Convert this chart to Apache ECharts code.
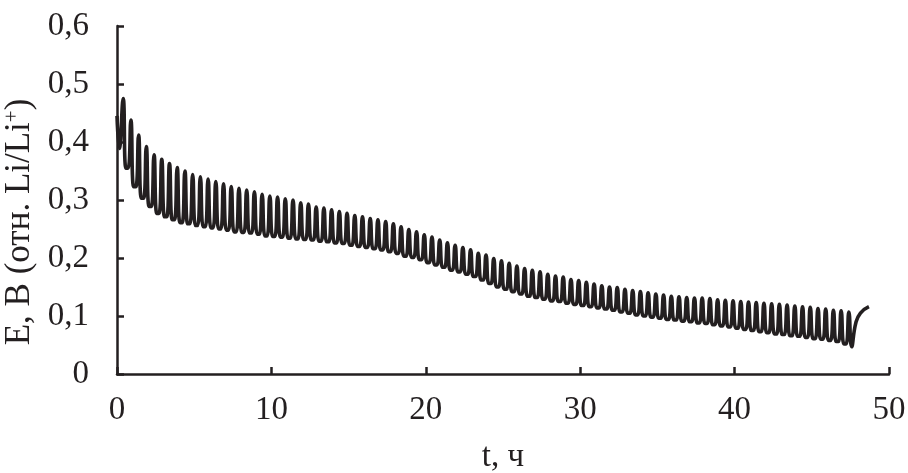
<!DOCTYPE html>
<html>
<head>
<meta charset="utf-8">
<script src="https://cdn.jsdelivr.net/npm/echarts@6/dist/echarts.min.js"></script>
<style>html,body{margin:0;padding:0;background:#fff}#c{width:908px;height:473px}</style>
</head>
<body>
<div id="c"></div>
<script>
// Tick labels
const xTicks = [0, 10, 20, 30, 40, 50];
const yTicks = [0, 0.1, 0.2, 0.3, 0.4, 0.5, 0.6];

// Cycle timing (h): first peak and cycle period
const firstPeakT = 0.4;
const cycleT = 0.5;

// Start of the record (t, E)
const startT = [0, 0.15];
const startE = [0.445, 0.389];

// Upper turning point of each cycle, V
const peakE = [
  0.475, 0.438, 0.412, 0.392, 0.378, 0.370, 0.363, 0.356, 0.350, 0.344,
  0.340, 0.336, 0.332, 0.328, 0.323, 0.320, 0.317, 0.314, 0.310, 0.307,
  0.305, 0.302, 0.300, 0.295, 0.293, 0.288, 0.286, 0.283, 0.280, 0.277,
  0.273, 0.271, 0.268, 0.266, 0.263, 0.259, 0.254, 0.249, 0.245, 0.240,
  0.236, 0.231, 0.226, 0.222, 0.218, 0.214, 0.208, 0.205, 0.199, 0.195,
  0.191, 0.186, 0.182, 0.179, 0.176, 0.172, 0.169, 0.167, 0.163, 0.161,
  0.158, 0.155, 0.152, 0.150, 0.149, 0.146, 0.144, 0.142, 0.140, 0.138,
  0.136, 0.134, 0.133, 0.132, 0.131, 0.131, 0.130, 0.128, 0.127, 0.126,
  0.125, 0.124, 0.123, 0.122, 0.121, 0.120, 0.119, 0.117, 0.116, 0.115,
  0.113, 0.112, 0.110, 0.109, 0.107
];

// Lower turning point of each cycle, V
const troughE = [
  0.355, 0.323, 0.303, 0.289, 0.277, 0.271, 0.266, 0.261, 0.259, 0.256,
  0.254, 0.252, 0.250, 0.248, 0.245, 0.244, 0.243, 0.241, 0.238, 0.237,
  0.236, 0.234, 0.233, 0.232, 0.231, 0.229, 0.228, 0.226, 0.225, 0.222,
  0.220, 0.218, 0.216, 0.214, 0.211, 0.208, 0.203, 0.201, 0.197, 0.192,
  0.188, 0.184, 0.179, 0.176, 0.172, 0.168, 0.162, 0.156, 0.150, 0.146,
  0.142, 0.138, 0.134, 0.132, 0.129, 0.126, 0.125, 0.122, 0.120, 0.118,
  0.116, 0.114, 0.112, 0.110, 0.107, 0.105, 0.102, 0.100, 0.098, 0.096,
  0.094, 0.093, 0.091, 0.090, 0.088, 0.087, 0.085, 0.083, 0.081, 0.079,
  0.077, 0.075, 0.073, 0.071, 0.069, 0.068, 0.066, 0.065, 0.063, 0.061,
  0.060, 0.058, 0.056, 0.052, 0.047
];

// Final charge step after the last cycle (t, E)
const tailT = [47.85, 48.15, 48.7];
const tailE = [0.088, 0.105, 0.116];

// Shape of a cycle: drop after the peak, short dwell at the bottom, rise
const dropT = 0.18;
const riseT = 0.18;

const pts = [];
for (let i = 0; i < startT.length; i++) pts.push([startT[i], startE[i]]);
for (let k = 0; k < peakE.length; k++) {
  const p = firstPeakT + k * cycleT;
  pts.push([p, peakE[k]]);
  pts.push([p + dropT, troughE[k]]);
  if (k < peakE.length - 1) pts.push([p + cycleT - riseT, troughE[k]]);
}
for (let i = 0; i < tailT.length; i++) pts.push([tailT[i], tailE[i]]);

const ink = '#231f20';
const font = '"Liberation Serif", "Times New Roman", serif';

const chart = echarts.init(document.getElementById('c'), null, {renderer: 'canvas'});
chart.setOption({
  animation: false,
  backgroundColor: '#fff',
  grid: {left: 117, right: 19, top: 26, bottom: 99, containLabel: false, outerBoundsMode: 'none'},
  xAxis: {
    type: 'value',
    min: xTicks[0], max: xTicks[xTicks.length - 1], interval: xTicks[1] - xTicks[0],
    name: 't, ч', nameLocation: 'middle', nameGap: 67,
    nameTextStyle: {fontFamily: font, fontSize: 33, color: ink},
    axisLine: {lineStyle: {color: ink, width: 2.5}},
    axisTick: {inside: true, length: 7, lineStyle: {color: ink, width: 2.5}},
    axisLabel: {fontFamily: font, fontSize: 33, color: ink, margin: 20},
    splitLine: {show: false}
  },
  yAxis: {
    type: 'value',
    min: yTicks[0], max: yTicks[yTicks.length - 1], interval: yTicks[1] - yTicks[0],
    name: 'E, В (отн. Li/Li{sup|+})', nameLocation: 'middle', nameGap: 59, nameRotate: 90,
    nameTextStyle: {fontFamily: font, fontSize: 35, color: ink, padding: [12, 44, 0, 0],
      rich: {sup: {fontFamily: font, fontSize: 21, color: ink, verticalAlign: 'top', padding: [0, 0, 14, 0]}}},
    axisLine: {show: true, lineStyle: {color: ink, width: 2.5}},
    axisTick: {show: true, inside: true, length: 7, lineStyle: {color: ink, width: 2.5}},
    axisLabel: {fontFamily: font, fontSize: 33, color: ink, margin: 28,
      formatter: v => (Math.round(v * 10) / 10).toString().replace('.', ',')},
    splitLine: {show: false}
  },
  series: [{
    type: 'line',
    data: pts,
    showSymbol: false,
    smooth: 0.5,
    lineStyle: {color: ink, width: 3.6},
    z: 1
  }]
});
</script>
</body>
</html>
